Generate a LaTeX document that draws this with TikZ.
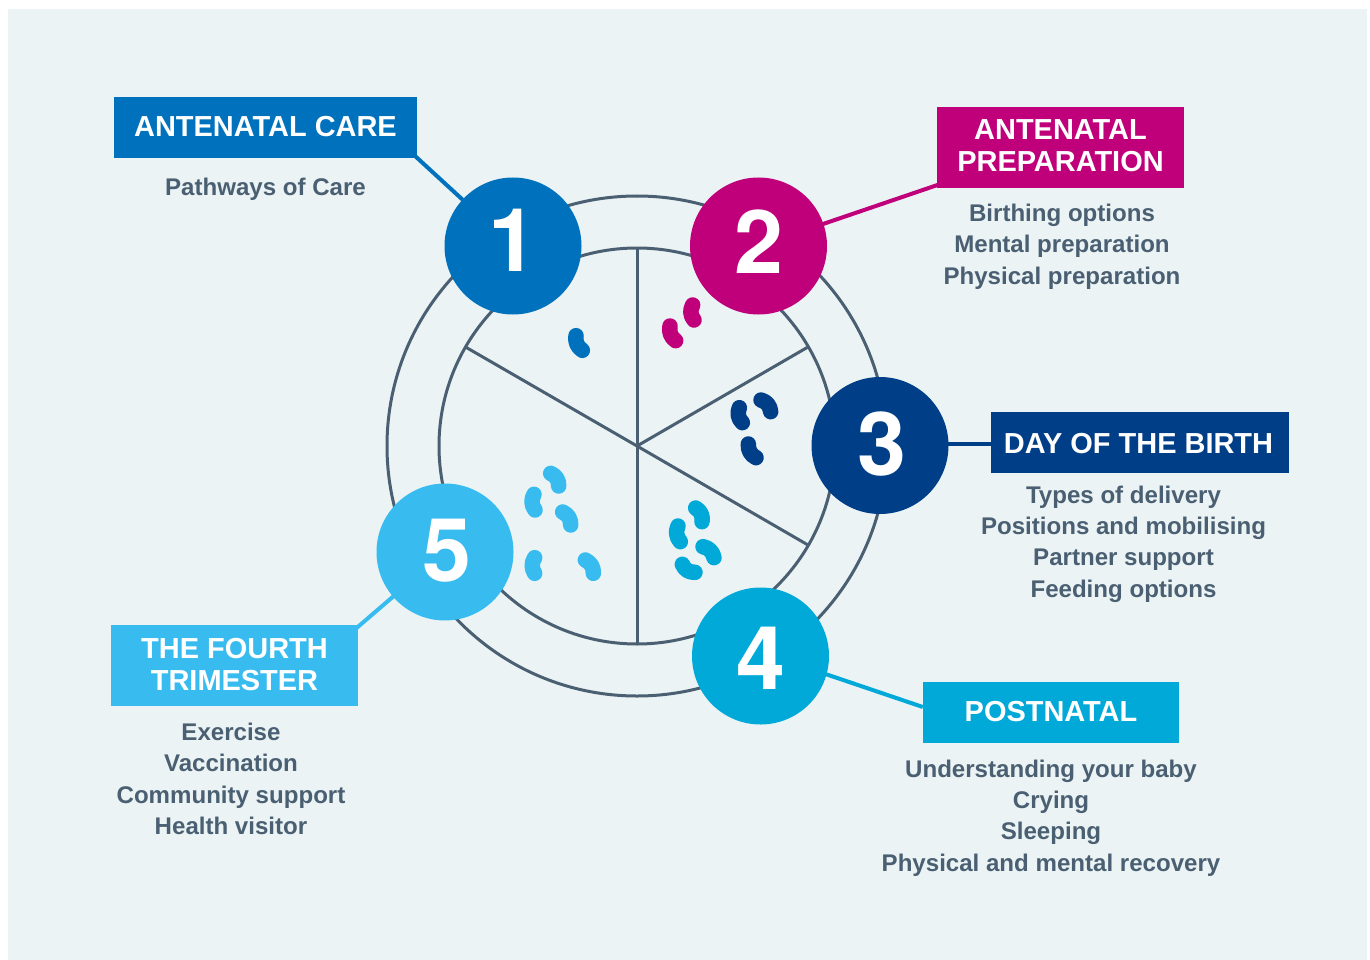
\documentclass[tikz,border=0pt]{standalone}
\usepackage{fontspec}
\setmainfont{Liberation Sans}[Scale=1]
\newfontfamily\digitfont{TeX Gyre Heros}
\usetikzlibrary{calc}
\definecolor{bgc}{HTML}{EBF3F5}
\definecolor{ink}{HTML}{4A6072}
\definecolor{cA}{HTML}{0071BC}
\definecolor{cB}{HTML}{C0007A}
\definecolor{cC}{HTML}{003E87}
\definecolor{cD}{HTML}{00A9D8}
\definecolor{cE}{HTML}{38BCF0}
\tikzset{
  x=1pt,y=-1pt,
  num/.style={circle,minimum size=137pt,inner sep=0pt},
  digit/.style={inner sep=0pt,text=white,font=\digitfont\fontsize{88}{88}\selectfont\bfseries},
  title/.style={inner sep=0pt,text=white,align=center,font=\fontsize{28.95}{31.5}\selectfont\bfseries},
  body/.style={inner sep=0pt,text=ink,align=center,font=\fontsize{24.08}{31.4}\selectfont\bfseries},
  wire/.style={line width=4pt},
  ring/.style={draw=ink,line width=3pt},
  spoke/.style={draw=ink,line width=3pt}
}
\newcommand{\bean}[6]{%
  \pgfmathsetmacro{\bax}{500+#1/3}\pgfmathsetmacro{\bay}{280+#2/3}%
  \pgfmathsetmacro{\bbx}{500+#3/3}\pgfmathsetmacro{\bby}{280+#4/3}%
  \pgfmathsetmacro{\bdx}{\bbx-\bax}\pgfmathsetmacro{\bdy}{\bby-\bay}%
  \pgfmathsetmacro{\blen}{sqrt(\bdx*\bdx+\bdy*\bdy)}%
  \pgfmathsetmacro{\bcx}{(\bax+\bbx)/2+\bdy/\blen*#5}%
  \pgfmathsetmacro{\bcy}{(\bay+\bby)/2-\bdx/\blen*#5}%
  \draw[#6,line width=15.5pt,line cap=round,line join=round] (\bax,\bay)
    .. controls ({\bax+2/3*(\bcx-\bax)},{\bay+2/3*(\bcy-\bay)}) and ({\bbx+2/3*(\bcx-\bbx)},{\bby+2/3*(\bcy-\bby)}) .. (\bbx,\bby);}
\begin{document}
\begin{tikzpicture}
\useasboundingbox (0,0) rectangle (1370,960);
\fill[bgc] (8,9) rectangle (1367,960);
\coordinate (hub) at (637,446);
\draw[ring] (hub) circle[radius=250];
\draw[ring] (hub) circle[radius=198];
\coordinate (s1) at (637,248);
\coordinate (s2) at (808,347);
\coordinate (s3) at (808,545);
\coordinate (s4) at (637,644);
\coordinate (s5) at (465.5,347);
\foreach \s in {s1,s2,s3,s4,s5} \draw[spoke] (hub) -- (\s);
\bean{228}{167}{247}{211}{-5}{cA}
\bean{578}{75}{582}{120}{-5}{cB}
\bean{510}{138}{527}{182}{-5}{cB}
\bean{783}{360}{812}{395}{5}{cC}
\bean{718}{383}{727}{428}{-5}{cC}
\bean{745}{492}{768}{533}{-5}{cC}
\bean{587}{684}{606}{725}{5}{cD}
\bean{534}{738}{541}{785}{-5}{cD}
\bean{609}{800}{642}{833}{5}{cD}
\bean{547}{853}{585}{877}{-5}{cD}
\bean{152}{580}{176}{618}{5}{cE}
\bean{102}{643}{105}{690}{-5}{cE}
\bean{188}{696}{212}{735}{5}{cE}
\bean{104}{833}{104}{880}{-5}{cE}
\bean{256}{840}{280}{880}{5}{cE}
% boxes
\node[title,fill=cA,minimum width=303pt,minimum height=61pt,text depth=3pt] (b1) at (265.5,127.5) {ANTENATAL CARE};
\node[fill=cB,inner sep=0pt,minimum width=247pt,minimum height=81pt] (b2) at (1060.5,147.5) {};
\node[title] (l2) at (1060.5,145.5) {ANTENATAL\\PREPARATION};
\node[title,fill=cC,minimum width=298pt,minimum height=61pt,text height=22.7pt] (b3) at (1140,442.5) {DAY OF THE BIRTH\hspace*{3pt}};
\node[title,fill=cD,minimum width=256pt,minimum height=61pt,text depth=2pt] (b4) at (1051,712.5) {POSTNATAL};
\node[title,fill=cE,minimum width=247pt,minimum height=81pt] (b5) at (234.5,665) {};
\node[title] (l5) at (234.5,664.5) {THE FOURTH\\TRIMESTER};
% circles (coordinates first, so wires lie beneath)
\coordinate (p1) at (513,246);
\coordinate (p2) at (758.5,246);
\coordinate (p3) at (880,444);
\coordinate (p4) at (760.5,652);
\coordinate (p5) at (445,552);
\draw[wire,cA] ($(b1.south east)+(-3,-3)$) -- (p1);
\draw[wire,cB] ($(b2.south west)+(3,-4)$) -- (p2);
\draw[wire,cC] (b3.west |- p3) -- (p3);
\draw[wire,cD] ($(b4.west)+(0,-5.5)$) -- (p4);
\draw[wire,cE] ($(b5.north east)+(-2,4)$) -- (p5);
\node[num,fill=cA] (c1) at (p1) {};
\node[num,fill=cB] (c2) at (p2) {};
\node[num,fill=cC] (c3) at (880,445.5) {};
\node[num,fill=cD] (c4) at (760.5,656) {};
\node[num,fill=cE] (c5) at (p5) {};
\node[digit] (d1) at (513,240.4) {1};
\node[digit] (d2) at (759,241.5) {2};
\node[digit] (d3) at (881.5,444.5) {3};
\node[digit] (d4) at (761,658) {4};
\node[digit] (d5) at (446.5,551) {5};
% body text
\node[body,anchor=center] (t1) at (265.5,189) {Pathways of Care};
\node[body,anchor=center] (t2) at (1062,246.5) {Birthing options\\Mental preparation\\Physical preparation};
\node[body,anchor=center] (t3) at (1123.5,544) {Types of delivery\\Positions and mobilising\\Partner support\\Feeding options};
\node[body,anchor=center] (t4) at (1051,818) {Understanding your baby\\Crying\\Sleeping\\Physical and mental recovery};
\node[body,anchor=center] (t5) at (231,779) {Exercise\\Vaccination\\Community support\\Health visitor};
\end{tikzpicture}
\end{document}
